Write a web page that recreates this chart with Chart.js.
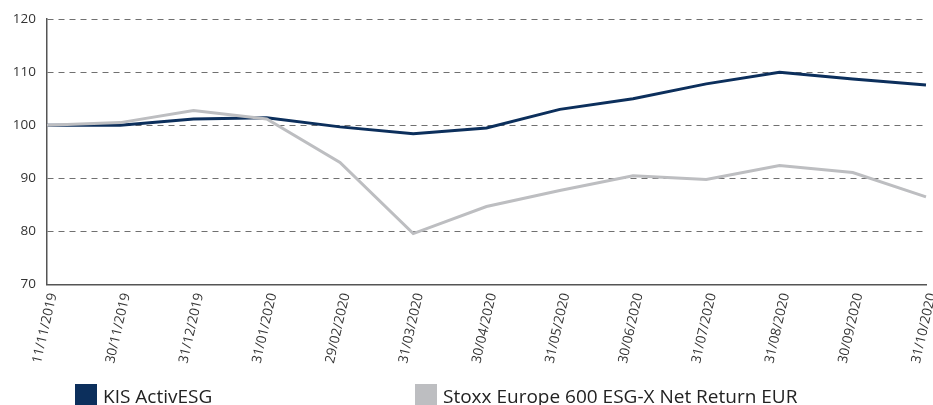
<!DOCTYPE html>
<html>
<head>
<meta charset="utf-8">
<script src="https://cdn.jsdelivr.net/npm/chart.js@4"></script>
<style>
  body { margin: 0; background: #fff; }
  #wrap { position: relative; width: 933px; height: 405px; overflow: hidden; }
  #legend { position: absolute; top: 383px; left: 0; width: 933px; height: 24px;
            font-family: "Liberation Sans Narrow", "Open Sans", sans-serif; font-size: 19px; color: #222; }
  .item { position: absolute; top: 0; display: flex; align-items: center; }
  .box { width: 22px; height: 24px; margin-right: 6px; }
</style>
</head>
<body>
<div id="wrap">
  <canvas id="chart" width="933" height="405"></canvas>
  <div id="legend"></div>
</div>
<script>
const labels = ["11/11/2019", "30/11/2019", "31/12/2019", "31/01/2020", "29/02/2020", "31/03/2020",
  "30/04/2020", "31/05/2020", "30/06/2020", "31/07/2020", "31/08/2020", "30/09/2020", "31/10/2020"];
const kisActiv = [100, 100, 101.2, 101.4, 99.7, 98.4, 99.5, 103, 105, 107.8, 110, 108.7, 107.6];
const stoxxEsg = [100, 100.5, 102.8, 101.2, 93, 79.6, 84.7, 87.7, 90.5, 89.8, 92.4, 91.1, 86.5];

const seriesNames = ["KIS ActivESG", "Stoxx Europe 600 ESG-X Net Return EUR"];
const seriesColors = ["#0c2f5c", "#bdbec1"];

const ctx = document.getElementById("chart").getContext("2d");

new Chart(ctx, {
  type: "line",
  data: {
    labels: labels,
    datasets: [
      { label: seriesNames[1], data: stoxxEsg, borderColor: seriesColors[1], borderWidth: 3,
        pointRadius: 0, tension: 0, fill: false },
      { label: seriesNames[0], data: kisActiv, borderColor: seriesColors[0], borderWidth: 3,
        pointRadius: 0, tension: 0, fill: false }
    ]
  },
  options: {
    responsive: false,
    animation: false,
    layout: { padding: { top: 17, right: 7, bottom: 33, left: 0 } },
    plugins: {
      legend: { display: false },
      tooltip: { enabled: false }
    },
    scales: {
      x: {
        offset: false,
        afterFit: s => { s.paddingRight = 7; s.paddingLeft = 0; },
        grid: { display: false, drawTicks: false },
        border: { display: true, color: "#555", width: 1.5 },
        ticks: {
          font: { family: "Open Sans", size: 13.5 },
          color: "#333",
          minRotation: 77,
          maxRotation: 77,
          autoSkip: false,
          labelOffset: 6,
          padding: 7
        }
      },
      y: {
        min: 70,
        max: 120,
        afterFit: s => { s.width = 47; },
        grid: { color: "#707070", lineWidth: 1, drawTicks: false },
        border: { display: true, color: "#555", width: 1.5, dash: [6, 5] },
        ticks: {
          stepSize: 10,
          font: { family: "Open Sans", size: 13.5 },
          color: "#333",
          padding: 11
        }
      }
    }
  }
});

// legend below the plot
const legend = document.getElementById("legend");
const legendLeft = [75, 415];
seriesNames.forEach((name, i) => {
  const it = document.createElement("div");
  it.className = "item";
  it.style.left = legendLeft[i] + "px";
  it.innerHTML = '<span class="box" style="background:' + seriesColors[i] + '"></span><span>' + name + '</span>';
  legend.appendChild(it);
});
</script>
</body>
</html>
